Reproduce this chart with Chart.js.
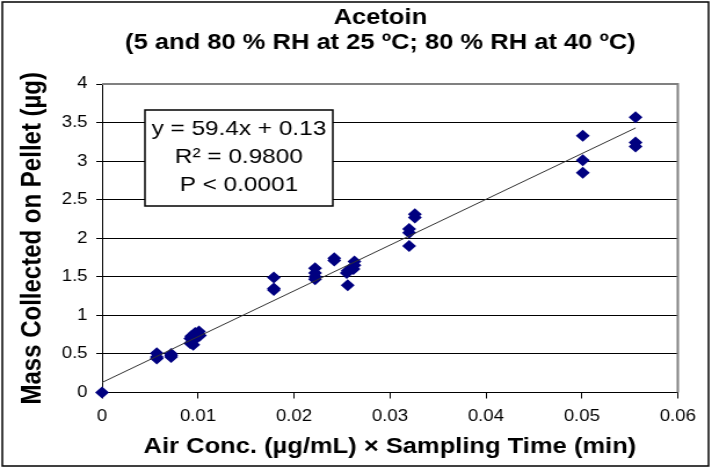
<!DOCTYPE html>
<html>
<head>
<meta charset="utf-8">
<script src="https://cdn.jsdelivr.net/npm/chart.js@4"></script>
<style>
html, body { margin: 0; padding: 0; background: #fff; }
</style>
</head>
<body>
<!-- drawn a bit narrower and stretched, like the original picture -->
<canvas id="chart" width="614" height="469" style="display:block;width:712px;height:469px"></canvas>
<script>
const titleLines = ['Acetoin', '(5 and 80 % RH at 25 ºC; 80 % RH at 40 ºC)'];
const xTitle = 'Air Conc. (µg/mL) × Sampling Time (min)';
const yTitle = 'Mass Collected on Pellet (µg)';
const statLines = ['y = 59.4x + 0.13', 'R² = 0.9800', 'P < 0.0001'];

const concTime = [0,
    0.0057, 0.0057, 0.0057,
    0.0072, 0.0072, 0.0072,
    0.0092, 0.0092, 0.0093,
    0.0096, 0.0097, 0.0095,
    0.0101, 0.0102,
    0.0179, 0.0179, 0.0179,
    0.0222, 0.0222, 0.0222, 0.0222,
    0.0242, 0.0242,
    0.0256, 0.0256, 0.0255,
    0.0263, 0.0263, 0.0262,
    0.0320, 0.0320, 0.0320,
    0.0326, 0.0326,
    0.0501, 0.0501, 0.0501,
    0.0556, 0.0556, 0.0556];
const massCollected = [0,
    0.51, 0.46, 0.44,
    0.50, 0.46, 0.48,
    0.64, 0.70, 0.73,
    0.68, 0.77, 0.62,
    0.79, 0.74,
    1.49, 1.35, 1.33,
    1.61, 1.55, 1.50, 1.47,
    1.74, 1.71,
    1.58, 1.39, 1.55,
    1.70, 1.65, 1.60,
    2.12, 2.07, 1.90,
    2.31, 2.27,
    3.33, 3.01, 2.85,
    3.57, 3.24, 3.19];

// trend line ends
const fitX = [0, 0.0556];
const fitY = [0.13, 3.43];

const xTickLabels = ['0', '0.01', '0.02', '0.03', '0.04', '0.05', '0.06'];
const yTickLabels = ['0', '0.5', '1', '1.5', '2', '2.5', '3', '3.5', '4'];

const FONT = '"Liberation Sans", Arial, sans-serif';

const decor = {
    id: 'decor',
    afterDraw(chart) {
        const ctx = chart.ctx;
        const a = chart.chartArea;
        ctx.save();
        // plot border (top + right)
        ctx.strokeStyle = '#808080';
        ctx.lineWidth = 2;
        ctx.beginPath();
        ctx.moveTo(a.left, a.top);
        ctx.lineTo(a.right, a.top);
        ctx.lineTo(a.right, a.bottom);
        ctx.stroke();
        // outer frame
        ctx.strokeStyle = '#000';
        ctx.lineWidth = 1.5;
        ctx.strokeRect(2, 2, chart.width - 5, chart.height - 5);
        // titles
        ctx.fillStyle = '#000';
        ctx.textAlign = 'center';
        ctx.textBaseline = 'middle';
        ctx.font = 'bold 22px ' + FONT;
        ctx.fillText(titleLines[0], 328, 18);
        ctx.fillText(titleLines[1], 328, 43);
        // stats box
        ctx.fillStyle = '#fff';
        ctx.fillRect(125, 110, 162, 96);
        ctx.lineWidth = 1.5;
        ctx.strokeRect(125, 110, 162, 96);
        ctx.fillStyle = '#000';
        ctx.font = '21px ' + FONT;
        statLines.forEach((t, i) => ctx.fillText(t, 206, 129 + i * 28));
        ctx.restore();
    }
};

new Chart(document.getElementById('chart'), {
    type: 'scatter',
    data: {
        datasets: [{
            type: 'line',
            data: fitX.map((x, i) => ({x: x, y: fitY[i]})),
            borderColor: '#333',
            borderWidth: 1,
            pointRadius: 0,
            fill: false,
        },
        {
            data: concTime.map((x, i) => ({x: x, y: massCollected[i]})),
            pointStyle: 'rectRot',
            pointRadius: 6,
            backgroundColor: '#000080',
            borderColor: '#000080',
            borderWidth: 0,
            clip: false,
        }]
    },
    options: {
        responsive: false,
        animation: false,
        devicePixelRatio: 1,
        layout: { padding: { top: 84, right: 29.5, bottom: 0, left: 0 } },
        plugins: { legend: { display: false }, tooltip: { enabled: false } },
        scales: {
            x: {
                type: 'linear', min: 0, max: 0.06,
                afterFit: s => { s.height = 76.5; },
                ticks: {
                    stepSize: 0.01, padding: 8, color: '#000',
                    font: { family: FONT, size: 16 },
                    callback: (v, i) => xTickLabels[i]
                },
                grid: { drawOnChartArea: false, drawTicks: true, tickLength: 6, color: '#000' },
                border: { color: '#000', width: 1 },
                title: {
                    display: true, text: xTitle, color: '#000',
                    font: { family: FONT, size: 22, weight: 'bold' },
                    padding: { top: 0, bottom: 9 }
                }
            },
            y: {
                min: 0, max: 4,
                afterFit: s => { s.width = 88; },
                ticks: {
                    stepSize: 0.5, padding: 7.5, color: '#000',
                    font: { family: FONT, size: 16 },
                    callback: (v, i) => yTickLabels[i]
                },
                grid: { color: '#000', lineWidth: 1, tickLength: 5 },
                border: { color: '#000', width: 1 },
                title: {
                    display: true, text: yTitle, color: '#000',
                    font: { family: FONT, size: 24, weight: 'bold' },
                    padding: { top: 14, bottom: 0 }
                }
            }
        }
    },
    plugins: [decor]
});
</script>
</body>
</html>
